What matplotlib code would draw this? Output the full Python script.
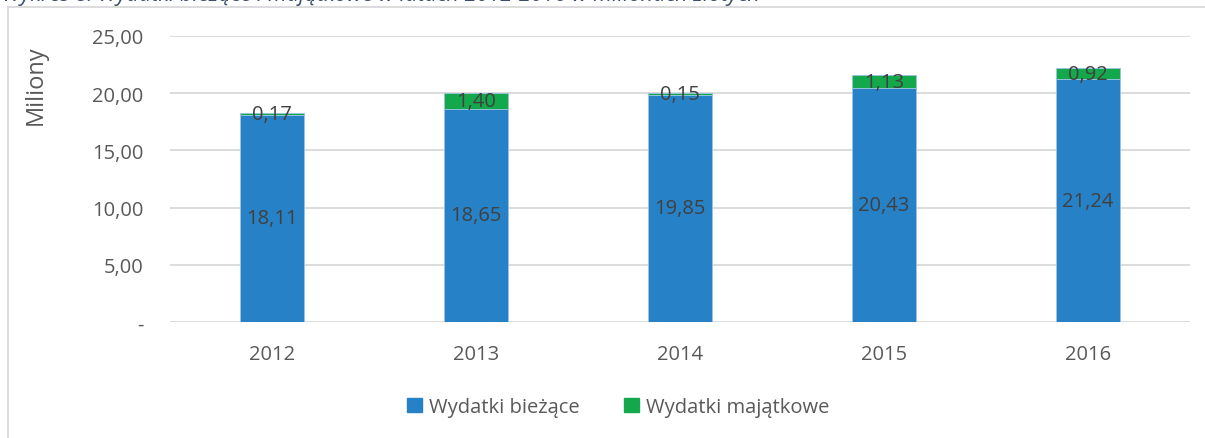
import matplotlib
matplotlib.use("Agg")
import matplotlib.pyplot as plt
from matplotlib.patches import Patch
from matplotlib.lines import Line2D

years = ["2012", "2013", "2014", "2015", "2016"]
biezace = [18.11, 18.65, 19.85, 20.43, 21.24]
majatkowe = [0.17, 1.40, 0.15, 1.13, 0.92]
yticks = [0, 5, 10, 15, 20, 25]
ytick_labels = ["-", "5,00", "10,00", "15,00", "20,00", "25,00"]

plt.rcParams['font.family'] = ['Open Sans', 'DejaVu Sans']
blue = "#2781C6"
green = "#13A84B"
txt = "#595959"
lbl = "#404040"
fs = 14.5

fig = plt.figure(figsize=(12.05, 4.39), dpi=100)
ax = fig.add_axes([170/1205, 1-323/439, 1020/1205, 286/439])

x = list(range(len(years)))
w = 0.31
ax.bar(x, biezace, w, color=blue, edgecolor="#9DC3E6", linewidth=0.6, zorder=3)
ax.bar(x, majatkowe, w, bottom=biezace, color=green, edgecolor="#9DC3E6", linewidth=0.6, zorder=3)

def fmt(v):
    return f"{v:.2f}".replace(".", ",")

for xi, v, m in zip(x, biezace, majatkowe):
    ax.text(xi, v/2, fmt(v), ha="center", va="center", fontsize=fs, color=lbl, zorder=4)
    ax.text(xi, v + m/2, fmt(m), ha="center", va="center", fontsize=fs, color=lbl, zorder=4)

ax.set_xlim(-0.5, len(years)-0.5)
ax.set_ylim(0, 25)
ax.set_yticks(yticks)
ax.set_yticklabels(ytick_labels)
ax.set_xticks(x)
ax.set_xticklabels(years)
ax.tick_params(axis="both", length=0, labelsize=fs, colors=txt)
ax.tick_params(axis="y", pad=19)
ax.tick_params(axis="x", pad=16)
ax.grid(axis="y", color="#D9D9D9", linewidth=1.3, zorder=0)
for s in ax.spines.values():
    s.set_visible(False)

fig.text(36/1205, 1-85/439, "Miliony", rotation=90, ha="center", va="center", fontsize=17, color=txt)

handles = [Patch(color=blue), Patch(color=green)]
fig.legend(handles, ["Wydatki bieżące", "Wydatki majątkowe"], loc="center",
           bbox_to_anchor=(618/1205, 1-408/439), ncol=2, frameon=False,
           fontsize=fs, handlelength=0.75, handleheight=0.75, handletextpad=0.35,
           columnspacing=2.2, labelcolor=txt)

# chart frame
fig.add_artist(Line2D([8/1205, 8/1205], [0, 1-8/439], color="#D9D9D9", lw=1.3))
fig.add_artist(Line2D([8/1205, 1], [1-8/439, 1-8/439], color="#D9D9D9", lw=1.3))

# caption (partially cut at the top edge, as in the reference)
fig.text(2/1205, 1-6/439, "Wykres 8. Wydatki bieżące i majątkowe w latach 2012-2016 w milionach złotych",
         ha="left", va="bottom", fontsize=15.6, style="italic", color="#3B4E6B")

fig.savefig("out.png", dpi=100)
